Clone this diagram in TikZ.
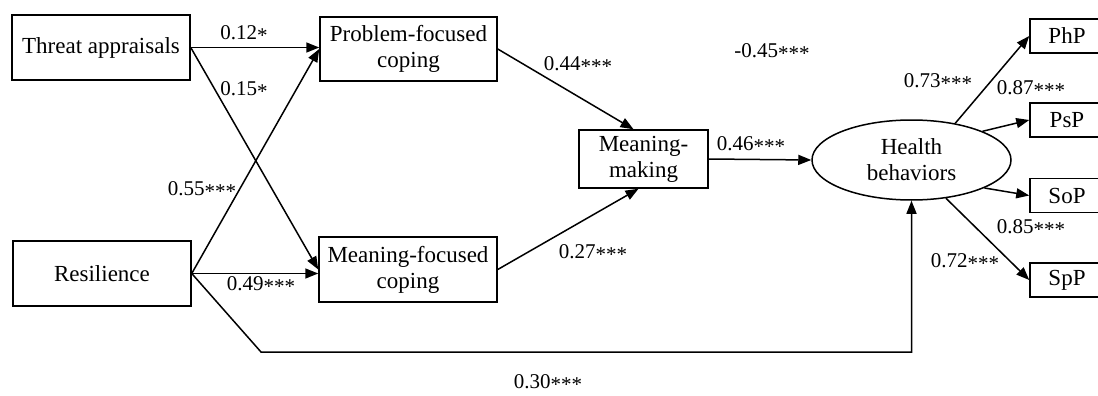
\documentclass[tikz,border=0pt]{standalone}
\usepackage{fontspec}
\setmainfont{Liberation Serif}
\usetikzlibrary{arrows.meta,shapes.geometric}
\newcommand{\lowst}[1]{\raisebox{-0.3ex}{#1}}
\begin{document}
\begin{tikzpicture}[x=1pt,y=-1pt,
 box/.style={draw,line width=1.5pt,inner sep=0pt,align=center,font=\fontsize{23}{26}\selectfont},
 lbl/.style={font=\fontsize{21}{24}\selectfont,inner sep=0pt},
 arr/.style={draw,line width=1.5pt,-{Triangle[length=13pt,width=10pt]}},
]
\useasboundingbox (0,0) rectangle (1098,396);
\fill[white] (0,0) rectangle (1098,396);
\node[box,minimum width=178pt,minimum height=65pt] (ta) at (101,47.5) {Threat appraisals};
\node[box,minimum width=177pt,minimum height=64pt] (pfc) at (408.5,49) {Problem-focused\\coping};
\node[box,minimum width=178pt,minimum height=65pt] (res) at (102,273.5) {Resilience};
\node[box,minimum width=178pt,minimum height=65pt] (mfc) at (408,269.5) {Meaning-focused\\coping};
\node[box,minimum width=129pt,minimum height=58pt] (mm) at (643.5,159) {Meaning-\\making};
\node[box,ellipse,minimum width=199pt,minimum height=80pt] (hb) at (911.5,160) {Health\\behaviors};
\begin{scope}
\clip (0,0) rectangle (1098,396);
\node[box,minimum width=74pt,minimum height=34pt] (php) at (1067,36) {PhP};
\node[box,minimum width=74pt,minimum height=34pt] (psp) at (1067,120) {PsP};
\node[box,minimum width=74pt,minimum height=34pt] (sop) at (1067,195.5) {SoP};
\node[box,minimum width=74pt,minimum height=34pt] (spp) at (1067,280) {SpP};
\end{scope}
\coordinate (c1) at (261,352);
\coordinate (c2) at (911.5,352);
\draw[arr] (ta.east) -- (pfc.west |- ta.east);
\draw[arr] (ta.east) -- (mfc.west);
\draw[arr] (res.east) -- (pfc.west);
\draw[arr] (res.east) -- (mfc.west |- res.east);
\draw[arr] (res.east) -- (c1) -- (c2) -- (hb.south);
\draw[arr] (pfc.east) -- ([xshift=-10pt]mm.north);
\draw[arr] (mfc.east) -- ([xshift=-5pt]mm.south);
\draw[arr] (mm.east) -- (hb.west);
\draw[arr] (hb.40) -- (php.west);
\draw[arr] (hb.22) -- (psp.west);
\draw[arr] (hb.-21) -- (sop.west);
\draw[arr] (hb.-48) -- (spp.west);
\node[lbl] (l1) at (244,34) {0.12\lowst{*}};
\node[lbl] (l2) at (244,90) {0.15\lowst{*}};
\node[lbl] (l3) at (202,190) {0.55\lowst{***}};
\node[lbl] (l4) at (261,285) {0.49\lowst{***}};
\node[lbl] (l5) at (578,65) {0.44\lowst{***}};
\node[lbl] (l6) at (772,52) {-0.45\lowst{***}};
\node[lbl] (l7) at (751,145) {0.46\lowst{***}};
\node[lbl] (l8) at (593,253) {0.27\lowst{***}};
\node[lbl] (l9) at (938,82) {0.73\lowst{***}};
\node[lbl] (l10) at (1031,89) {0.87\lowst{***}};
\node[lbl] (l11) at (1031,228) {0.85\lowst{***}};
\node[lbl] (l12) at (965,262) {0.72\lowst{***}};
\node[lbl] (l13) at (548,383) {0.30\lowst{***}};
\end{tikzpicture}
\end{document}
